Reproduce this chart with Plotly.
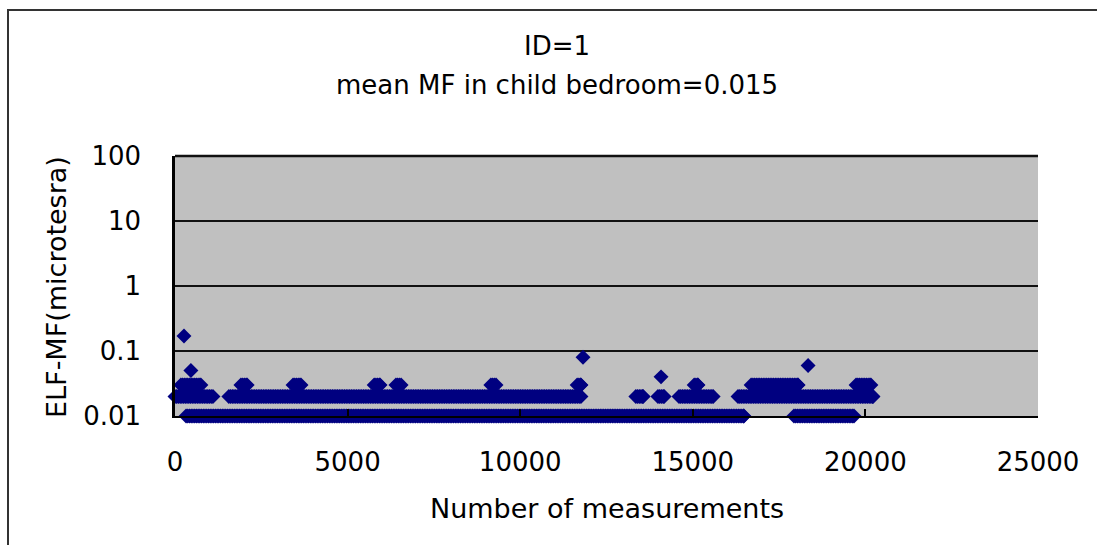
import plotly.graph_objects as go

run_start = [320, 17930,
             0, 1560, 13350, 13990, 14600, 16310,
             170, 1910, 3420, 5770, 6400, 9150, 11650, 15040, 16690, 19730]
run_end = [16480, 19670,
           1100, 11760, 13560, 14170, 15590, 20220,
           750, 2090, 3650, 5940, 6550, 9300, 11760, 15150, 18050, 20160]
run_value = [0.01, 0.01,
             0.02, 0.02, 0.02, 0.02, 0.02, 0.02,
             0.03, 0.03, 0.03, 0.03, 0.03, 0.03, 0.03, 0.03, 0.03, 0.03]

single_x = [260, 460, 11820, 14080, 18340]
single_y = [0.17, 0.05, 0.08, 0.04, 0.06]

x_ticks = [0, 5000, 10000, 15000, 20000, 25000]
x_tick_text = ["0", "5000", "10000", "15000", "20000", "25000"]
y_ticks = [0.01, 0.1, 1, 10, 100]
y_tick_text = ["0.01", "0.1", "1", "10", "100"]

title_line1 = "ID=1"
title_line2 = "mean MF in child bedroom=0.015"
x_title = "Number of measurements"
y_title = "ELF-MF(microtesra)"

# expand the runs into the individual readings (one drawn every 50 measurements)
STEP = 50
xs, ys = [], []
for s, e, v in zip(run_start, run_end, run_value):
    m = s
    while m <= e:
        xs.append(m)
        ys.append(v)
        m += STEP
    if xs[-1] != e:
        xs.append(e)
        ys.append(v)
xs += single_x
ys += single_y

FONT = "DejaVu Sans"
NAVY = "#000080"

fig = go.Figure()
fig.add_trace(go.Scatter(
    x=xs, y=ys, mode="markers",
    marker=dict(symbol="diamond", size=11.5, color=NAVY, line=dict(width=0)),
    cliponaxis=False, showlegend=False, hoverinfo="skip"))

L, R, T, B = 175, 59, 156, 129
W, H = 1097, 545
pw, ph = W - L - R, H - T - B


def px_x(px):
    return (px - L) / pw


def px_y(py):
    return (H - B - py) / ph


fig.update_layout(
    width=W, height=H, autosize=False,
    margin=dict(l=L, r=R, t=T, b=B, pad=0),
    paper_bgcolor="white", plot_bgcolor="#c0c0c0",
    font=dict(family=FONT, color="black"),
    xaxis=dict(range=[0, 25000], tickvals=x_ticks, ticktext=x_tick_text,
               ticks="inside", ticklen=7,
               tickcolor="black", tickwidth=1.5, showline=True, linecolor="black",
               linewidth=1.5, showgrid=False, zeroline=False,
               tickfont=dict(family=FONT, size=26, color="black"),
               ticklabelstandoff=22),
    yaxis=dict(type="log", range=[-2, 2], tickvals=y_ticks, ticktext=y_tick_text,
               ticks="", showline=True, linecolor="black", linewidth=2.5,
               showgrid=True, gridcolor="#111111", gridwidth=1.5, zeroline=False,
               tickfont=dict(family=FONT, size=26, color="black"),
               ticklabelstandoff=26),
    annotations=[
        dict(text=title_line1, xref="paper", yref="paper", x=px_x(557), y=px_y(46),
             showarrow=False, xanchor="center", yanchor="middle",
             font=dict(family=FONT, size=26, color="black")),
        dict(text=title_line2, xref="paper", yref="paper", x=px_x(557), y=px_y(85),
             showarrow=False, xanchor="center", yanchor="middle",
             font=dict(family=FONT, size=26, color="black")),
        dict(text=x_title, xref="paper", yref="paper", x=0.5, y=px_y(508),
             showarrow=False, xanchor="center", yanchor="middle",
             font=dict(family=FONT, size=27, color="black")),
        dict(text=y_title, xref="paper", yref="paper", x=px_x(56), y=px_y(287),
             showarrow=False, xanchor="center", yanchor="middle", textangle=-90,
             font=dict(family=FONT, size=27, color="black")),
    ],
    shapes=[
        dict(type="line", xref="paper", yref="paper", x0=0, x1=1, y0=1, y1=1,
             line=dict(color="#111111", width=2.5)),
        # outer chart border (only its left and top edges fall inside the picture)
        dict(type="line", xref="paper", yref="paper",
             x0=px_x(8), x1=px_x(8), y0=px_y(9), y1=px_y(560),
             line=dict(color="#333333", width=2)),
        dict(type="line", xref="paper", yref="paper",
             x0=px_x(7), x1=px_x(1120), y0=px_y(10), y1=px_y(10),
             line=dict(color="#333333", width=2)),
    ],
)

fig.write_html("out.html",
               config={"displayModeBar": False},
               post_script="document.body.style.margin='0px';"
                           "document.body.style.overflow='hidden';")
